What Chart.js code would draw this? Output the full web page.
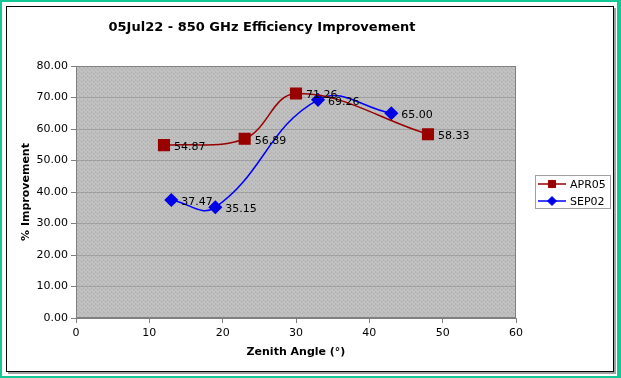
<!DOCTYPE html>
<html>
<head>
<meta charset="utf-8">
<script src="https://cdn.jsdelivr.net/npm/chart.js@4/dist/chart.umd.min.js"></script>
<style>
  html, body { margin: 0; padding: 0; background: #ffffff; }
  #wrap { width: 621px; height: 378px; }
</style>
</head>
<body>
<div id="wrap"><canvas id="c" width="621" height="378"></canvas></div>
<script>
// ---- data ----
const chartTitle = "05Jul22 - 850 GHz Efficiency Improvement";
const xAxisTitle = "Zenith Angle (°)";
const yAxisTitle = "% Improvement";
const seriesNames = ["APR05", "SEP02"];
const apr05Angles = [12, 23, 30, 48];
const apr05Values = [54.87, 56.89, 71.26, 58.33];
const sep02Angles = [13, 19, 33, 43];
const sep02Values = [37.47, 35.15, 69.26, 65.00];
const xTicks = [0, 10, 20, 30, 40, 50, 60];
const yTicks = [0, 10, 20, 30, 40, 50, 60, 70, 80];

const FONT = "'DejaVu Sans', Verdana, sans-serif";

function pts(xs, ys) { return xs.map((x, i) => ({ x: x, y: ys[i] })); }

// subtle textured gray like the reference plot area
function makePattern(ctx) {
  const t = document.createElement('canvas');
  t.width = 4; t.height = 4;
  const c = t.getContext('2d');
  c.fillStyle = '#c2c2c2';
  c.fillRect(0, 0, 4, 4);
  c.fillStyle = '#b4b4b4';
  [[0,0],[2,1],[1,2],[3,3],[3,0],[1,1]].forEach(p => c.fillRect(p[0], p[1], 1, 1));
  return ctx.createPattern(t, 'repeat');
}

const frame = {
  id: 'frame',
  beforeDraw(chart) {
    const ctx = chart.ctx;
    ctx.save();
    ctx.fillStyle = '#ffffff';
    ctx.fillRect(0, 0, 621, 378);
    // green outer border
    ctx.fillStyle = '#14c896';
    ctx.fillRect(0, 0, 621, 2);
    ctx.fillRect(0, 376, 621, 2);
    ctx.fillRect(0, 0, 2, 378);
    ctx.fillRect(617, 0, 4, 378);
    // shadow
    ctx.fillStyle = '#a0a0a0';
    ctx.fillRect(614, 8, 2, 365);
    ctx.fillRect(8, 372, 608, 2);
    // black inner border
    ctx.strokeStyle = '#000000';
    ctx.lineWidth = 1;
    ctx.strokeRect(6.5, 6.5, 607, 365);
    // plot background
    const a = chart.chartArea;
    ctx.fillStyle = makePattern(ctx);
    ctx.fillRect(a.left, a.top, a.right - a.left, a.bottom - a.top);
    // title
    ctx.fillStyle = '#000000';
    ctx.font = "bold 13px " + FONT;
    ctx.textAlign = 'center';
    ctx.textBaseline = 'middle';
    ctx.fillText(chartTitle, 262, 28);
    ctx.restore();
  },
  afterDatasetsDraw(chart) {
    const ctx = chart.ctx;
    const a = chart.chartArea;
    ctx.save();
    // plot frame
    ctx.strokeStyle = '#808080';
    ctx.lineWidth = 1;
    ctx.strokeRect(Math.round(a.left) + 0.5, Math.round(a.top) + 0.5,
                   Math.round(a.right - a.left) - 1, Math.round(a.bottom - a.top) - 1);
    // data labels
    ctx.fillStyle = '#000000';
    ctx.font = "11px " + FONT;
    ctx.textAlign = 'left';
    ctx.textBaseline = 'middle';
    chart.data.datasets.forEach((ds, di) => {
      const meta = chart.getDatasetMeta(di);
      meta.data.forEach((el, i) => {
        ctx.fillText(ds.data[i].y.toFixed(2), el.x + 10, el.y + 2);
      });
    });
    // legend
    ctx.fillStyle = '#ffffff';
    ctx.fillRect(535, 175, 75, 33);
    ctx.strokeStyle = '#a0a0a0';
    ctx.strokeRect(535.5, 175.5, 75, 33);
    const rows = [184, 201];
    chart.data.datasets.forEach((ds, di) => {
      const y = rows[di];
      ctx.strokeStyle = ds.borderColor;
      ctx.lineWidth = 1.5;
      ctx.beginPath();
      ctx.moveTo(538, y);
      ctx.lineTo(566, y);
      ctx.stroke();
      ctx.fillStyle = ds.pointBackgroundColor;
      ctx.strokeStyle = ds.pointBorderColor;
      ctx.lineWidth = 1;
      Chart.helpers.drawPoint(ctx, { pointStyle: ds.pointStyle, radius: ds.pointStyle === 'rect' ? 5 : 4.5, borderWidth: 1, rotation: 0 }, 552, y);
      ctx.fillStyle = '#000000';
      ctx.font = "11px " + FONT;
      ctx.textAlign = 'left';
      ctx.textBaseline = 'middle';
      ctx.fillText(ds.label, 570, y + 1);
    });
    ctx.restore();
  }
};

new Chart(document.getElementById('c'), {
  type: 'line',
  data: {
    datasets: [
      {
        label: seriesNames[0],
        data: pts(apr05Angles, apr05Values),
        borderColor: '#990000',
        backgroundColor: '#990000',
        pointBackgroundColor: '#990000',
        pointBorderColor: '#990000',
        pointStyle: 'rect',
        pointRadius: 7.5,
        borderWidth: 1.5,
        tension: 0.38,
        fill: false
      },
      {
        label: seriesNames[1],
        data: pts(sep02Angles, sep02Values),
        borderColor: '#0000ff',
        backgroundColor: '#0000ff',
        pointBackgroundColor: '#0000e6',
        pointBorderColor: '#0000e6',
        pointStyle: 'rectRot',
        pointRadius: 6,
        borderWidth: 1.5,
        tension: 0.42,
        fill: false
      }
    ]
  },
  options: {
    responsive: false,
    animation: false,
    devicePixelRatio: 1,
    layout: { padding: { left: 0, top: 66, right: 105, bottom: 0 } },
    plugins: {
      legend: { display: false },
      title: { display: false },
      tooltip: { enabled: false }
    },
    scales: {
      x: {
        type: 'linear',
        min: 0, max: 60,
        afterBuildTicks: (s) => { s.ticks = xTicks.map(v => ({ value: v })); },
        ticks: { color: '#000000', font: { family: FONT, size: 11 }, padding: 4, maxRotation: 0 },
        grid: { drawOnChartArea: false, drawTicks: true, tickLength: 5, tickColor: '#808080' },
        border: { display: true, color: '#808080' },
        title: { display: true, text: xAxisTitle, color: '#000000', font: { family: FONT, size: 11, weight: 'bold' }, padding: { top: 0, bottom: 19 } },
        afterFit: (s) => { s.height = 60; }
      },
      y: {
        type: 'linear',
        min: 0, max: 80,
        afterBuildTicks: (s) => { s.ticks = yTicks.map(v => ({ value: v })); },
        ticks: { color: '#000000', font: { family: FONT, size: 11 }, padding: 3, callback: (v) => Number(v).toFixed(2) },
        grid: { color: '#a0a0a0', drawTicks: true, tickLength: 5, tickColor: '#808080' },
        border: { display: true, color: '#808080' },
        title: { display: true, text: yAxisTitle, color: '#000000', font: { family: FONT, size: 11, weight: 'bold' }, padding: { top: 20, bottom: 0 } },
        afterFit: (s) => { s.width = 76; }
      }
    }
  },
  plugins: [frame]
});
</script>
</body>
</html>
